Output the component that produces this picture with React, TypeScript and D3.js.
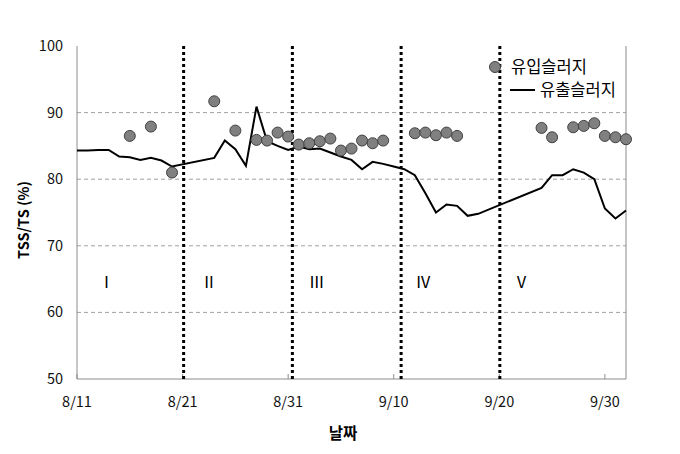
import React from "react";
import * as d3 from "d3";

const tickDays = [0, 10, 20, 30, 40, 50];
const tickLabels = ["8/11", "8/21", "8/31", "9/10", "9/20", "9/30"];
const yTicks = [50, 60, 70, 80, 90, 100];
const dividerDays = [10.1, 20.4, 30.7, 40.05];
const phaseLabels = ["Ⅰ", "Ⅱ", "Ⅲ", "Ⅳ", "Ⅴ"];
const phaseDays = [2.8, 12.5, 22.7, 32.8, 42.1];

const inflowDays = [5, 7, 9, 13, 15, 17, 18, 19, 20, 21, 22, 23, 24, 25, 26, 27, 28, 29, 32, 33, 34, 35, 36, 44, 45, 47, 48, 49, 50, 51, 52];
const inflowValues = [86.5, 87.9, 81.0, 91.7, 87.3, 85.9, 85.8, 87.0, 86.4, 85.2, 85.4, 85.7, 86.1, 84.3, 84.6, 85.8, 85.4, 85.8, 86.9, 87.0, 86.6, 87.0, 86.5, 87.7, 86.3, 87.8, 88.0, 88.4, 86.5, 86.3, 86.0];

const outflowDays = [0, 1, 2, 3, 4, 5, 6, 7, 8, 9, 13, 14, 15, 16, 17, 18, 19, 20, 21, 22, 23, 24, 25, 26, 27, 28, 29, 30, 31, 32, 33, 34, 35, 36, 37, 38, 44, 45, 46, 47, 48, 49, 50, 51, 52];
const outflowValues = [84.3, 84.3, 84.4, 84.4, 83.4, 83.3, 82.9, 83.2, 82.8, 81.9, 83.2, 85.8, 84.5, 82.0, 90.9, 85.7, 85.0, 84.4, 84.9, 84.5, 84.6, 84.0, 83.4, 82.9, 81.5, 82.6, 82.3, 81.9, 81.5, 80.6, 77.9, 75.0, 76.2, 76.0, 74.5, 74.8, 78.7, 80.6, 80.6, 81.5, 81.0, 80.0, 75.6, 74.1, 75.3];

const legendLabels = ["유입슬러지", "유출슬러지"];

const W = 680;
const H = 454;
const left = 77;
const right = 626;
const top = 46;
const bottom = 379;
const font = "'Noto Sans CJK KR', 'Noto Sans', sans-serif";

export default function App() {
  const x = d3.scaleLinear().domain([0, 52]).range([left, right]);
  const y = d3.scaleLinear().domain([50, 100]).range([bottom, top]);
  const line = d3
    .line<number>()
    .x((_, i) => x(outflowDays[i]))
    .y((d) => y(d));
  const axisColor = "#8c8c8c";

  return (
    <svg width={W} height={H} style={{ position: "absolute", left: 0, top: 0, background: "#fff" }} fontFamily={font}>
      <rect x={0} y={0} width={W} height={H} fill="#fff" />
      {yTicks.filter((t) => t > 50 && t < 100).map((t) => (
        <line key={t} x1={left} x2={right} y1={y(t)} y2={y(t)} stroke="#a0a0a0" strokeWidth={1} strokeDasharray="4,3" />
      ))}
      <line x1={left} x2={left} y1={top} y2={bottom} stroke={axisColor} strokeWidth={1} />
      <line x1={right} x2={right} y1={top} y2={bottom} stroke={axisColor} strokeWidth={1} />
      <line x1={left} x2={right} y1={bottom} y2={bottom} stroke={axisColor} strokeWidth={1} />
      {tickDays.map((d, i) => (
        <g key={d}>
          <line x1={x(d)} x2={x(d)} y1={bottom} y2={bottom - 5} stroke={axisColor} strokeWidth={1} />
          <text x={x(d)} y={407} textAnchor="middle" fontSize={14.5} fill="#111">{tickLabels[i]}</text>
        </g>
      ))}
      {yTicks.map((t) => (
        <text key={t} x={63} y={y(t)} dy="0.35em" textAnchor="end" fontSize={14.5} fill="#111">{t}</text>
      ))}
      {dividerDays.map((d) => (
        <line key={d} x1={x(d)} x2={x(d)} y1={top} y2={bottom} stroke="#000" strokeWidth={3} strokeDasharray="3,3" />
      ))}
      {phaseLabels.map((p, i) => (
        <text key={p} x={x(phaseDays[i])} y={282} dy="0.35em" textAnchor="middle" fontSize={16} fill="#000">{p}</text>
      ))}
      <path d={line(outflowValues) || ""} fill="none" stroke="#000" strokeWidth={2} strokeLinejoin="miter" />
      {inflowValues.map((v, i) => (
        <circle key={i} cx={x(inflowDays[i])} cy={y(v)} r={5.5} fill="#808080" stroke="#404040" strokeWidth={1} />
      ))}
      <circle cx={495} cy={67} r={5.5} fill="#808080" stroke="#404040" strokeWidth={1} />
      <text x={511} y={67} dy="0.35em" fontSize={16.5} fill="#000">{legendLabels[0]}</text>
      <line x1={510} x2={535} y1={90} y2={90} stroke="#000" strokeWidth={2} />
      <text x={540} y={90} dy="0.35em" fontSize={16.5} fill="#000">{legendLabels[1]}</text>
      <text transform="translate(24,220) rotate(-90)" textAnchor="middle" dy="0.35em" fontSize={14.5} fontWeight="bold" fill="#000">TSS/TS (%)</text>
      <text x={343} y={434} dy="0.35em" textAnchor="middle" fontSize={15.5} fontWeight="bold" fill="#000">날짜</text>
    </svg>
  );
}
